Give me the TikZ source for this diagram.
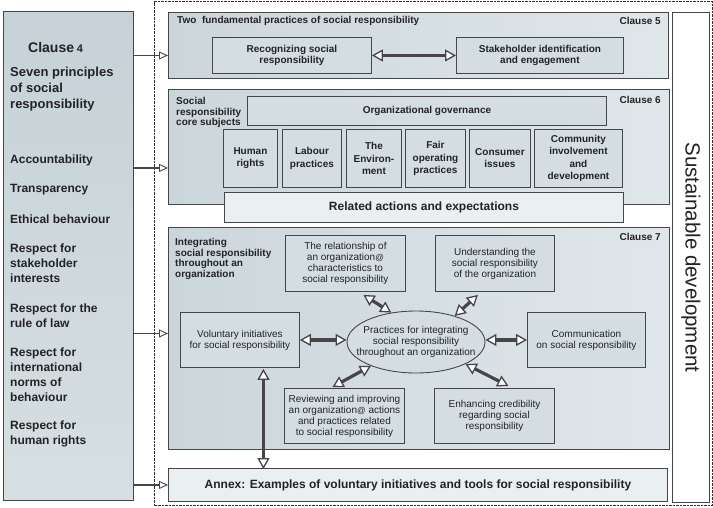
\documentclass[tikz,border=0pt]{standalone}
\usepackage{fontspec}
\setmainfont{Liberation Sans}
\usetikzlibrary{arrows.meta,shapes.geometric}

\definecolor{edge}{RGB}{68,70,72}
\definecolor{ink}{RGB}{35,35,35}
\definecolor{panelL}{RGB}{203,214,219}
\definecolor{panelR}{RGB}{224,231,234}
\definecolor{leftT}{RGB}{198,210,215}
\definecolor{leftB}{RGB}{214,223,226}
\definecolor{boxfill}{RGB}{212,222,226}
\definecolor{pale}{RGB}{234,239,241}

% garbled possessive mark as printed
\newcommand\possmark{{\fontsize{8.5}{10}\selectfont @}}

% box from its top-left corner (x1,y1) to bottom-right corner (x2,y2)
\newcommand\boxnode[7]{\node[#1,minimum width={(#5-#3)*1pt},minimum height={(#6-#4)*1pt}] (#2) at (#3,#4) {#7};}

\tikzset{
  frame/.style={draw=edge, line width=0.9pt, rectangle, inner sep=0pt, anchor=north west, align=center},
  dashframe/.style={frame, draw=black!80, dash pattern=on 2.5pt off 1pt, line width=1pt},
  panel/.style={frame, left color=panelL, right color=panelR},
  cell/.style={frame, fill=boxfill},
  palecell/.style={frame, fill=pale},
  bt/.style={font=\bfseries\fontsize{10}{11.5}\selectfont},
  bt12/.style={font=\bfseries\fontsize{12}{14}\selectfont},
  rt/.style={font=\fontsize{10}{11}\selectfont},
  item/.style={anchor=west, align=left, inner sep=0pt, font=\bfseries\fontsize{12}{15}\selectfont},
  feed/.style={draw=edge, line width=1.1pt, -{Triangle[fill=white,length=9pt,width=8pt,line width=0.9pt]}},
  link/.style={draw=edge, line width=3.2pt,
    {Triangle[fill=white,length=11pt,width=12pt,line width=1.3pt]}-{Triangle[fill=white,length=11pt,width=12pt,line width=1.3pt]}},
}

\begin{document}
\begin{tikzpicture}[x=1pt,y=-1pt,every node/.append style={text=ink}]
\useasboundingbox[fill=white] (0,0) rectangle (713,507);

% dashed frame around the clauses
\boxnode{dashframe}{outer}{154}{1}{711.5}{505}{}

% clause 4: principles
\boxnode{frame, top color=leftT, bottom color=leftB}{left}{3}{11}{133}{500}{}
\node[anchor=west, inner sep=0pt, font=\bfseries] (c4) at (28,47)
  {{\fontsize{14}{16}\selectfont Clause} {\fontsize{11}{13}\selectfont 4}};
\node[item, font=\bfseries\fontsize{13}{16}\selectfont] (seven) at (10,89.5)
  {Seven principles\\of social\\responsibility};
\node[item] (p1) at (10,160) {Accountability};
\node[item] (p2) at (10,190) {Transparency};
\node[item] (p3) at (10,219) {Ethical behaviour};
\node[item] (p4) at (10,263.5) {Respect for\\stakeholder\\interests};
\node[item] (p5) at (10,315.5) {Respect for the\\rule of law};
\node[item] (p6) at (10,375) {Respect for\\international\\norms of\\behaviour};
\node[item] (p7) at (10,434) {Respect for\\human rights};

% sustainable development
\boxnode{frame, fill=white}{sd}{672}{12}{709}{502}{}
\node[rotate=-90, font=\fontsize{20.5}{24}\selectfont] (sdtext) at (sd.center) {Sustainable development};

% clause 5
\boxnode{panel}{c5}{168}{12}{668}{78}{}
\node[anchor=west, inner sep=0pt, bt] (c5title) at (177,21) {Two\ \ fundamental practices of social responsibility};
\node[anchor=east, inner sep=0pt, bt] (c5lab) at (661,21) {Clause 5};
\boxnode{cell, bt}{recog}{212}{37}{371}{73}{Recognizing social\\responsibility}
\boxnode{cell, bt}{stake}{456}{37}{623}{73}{Stakeholder identification\\and engagement}

% clause 6
\boxnode{panel}{c6}{168}{89}{669}{204}{}
\node[anchor=west, align=left, inner sep=0pt, font=\bfseries\fontsize{10}{10.7}\selectfont] (c6title) at (176,112.5)
  {Social\\responsibility\\core subjects};
\node[anchor=east, inner sep=0pt, bt] (c6lab) at (661,100) {Clause 6};
\boxnode{cell, bt}{gov}{247}{96}{606}{125}{Organizational governance}
\boxnode{cell, font=\bfseries\fontsize{10}{12.2}\selectfont}{hr}{223}{129}{277}{187}{Human\\rights}
\boxnode{cell, font=\bfseries\fontsize{10}{12.2}\selectfont}{lab}{282}{129}{341}{187}{Labour\\practices}
\boxnode{cell, font=\bfseries\fontsize{10}{12.2}\selectfont}{env}{346}{129}{401}{187}{The\\Environ-\\ment}
\boxnode{cell, font=\bfseries\fontsize{10}{12.2}\selectfont}{fair}{405}{129}{465}{187}{Fair\\operating\\practices}
\boxnode{cell, font=\bfseries\fontsize{10}{12.2}\selectfont}{cons}{469}{129}{530}{187}{Consumer\\issues}
\boxnode{cell, font=\bfseries\fontsize{10}{12.2}\selectfont}{commun}{534}{129}{622}{187}{Community\\involvement\\and\\development}
\boxnode{palecell, bt12}{related}{224}{192}{623}{222}{Related actions and expectations}

% clause 7
\boxnode{panel}{c7}{168}{227}{669}{449}{}
\node[anchor=west, align=left, inner sep=0pt, font=\bfseries\fontsize{10}{10.7}\selectfont] (c7title) at (175,259)
  {Integrating\\social responsibility\\throughout an\\organization};
\node[anchor=east, inner sep=0pt, bt] (c7lab) at (661,237) {Clause 7};
\boxnode{cell, rt}{relat}{285}{235}{405}{291}{The relationship of\\an organization\possmark\\characteristics to\\social responsibility}
\boxnode{cell, rt}{und}{435}{235}{554}{291}{Understanding the\\social responsibility\\of the organization}
\boxnode{cell, rt}{vol}{180}{312}{299}{367}{Voluntary initiatives\\for social responsibility}
\boxnode{cell, rt}{commu}{527}{312}{645}{367}{Communication\\on social responsibility}
\boxnode{cell, rt}{rev}{284}{388}{404}{443}{Reviewing and improving\\an organization\possmark\ actions\\and practices related\\to social responsibility}
\boxnode{cell, rt}{enh}{434}{388}{554}{443}{Enhancing credibility\\regarding social\\responsibility}
\node[ellipse, draw=edge, line width=0.9pt, fill=boxfill, inner sep=0pt,
      minimum width=138pt, minimum height=62pt] (ell) at (416,342) {};
\node[rt, align=center, inner sep=0pt] (elltext) at (ell.center)
  {Practices for integrating\\social responsibility\\throughout an organization};

% annex
\boxnode{palecell, bt12}{annex}{168}{468}{667}{501}{Annex: Examples of voluntary initiatives and tools for social responsibility}

% links inside the clauses
\draw[link] (recog.east) -- (stake.west);
\draw[link] ([xshift=18pt,yshift=-3pt]relat.south) -- (ell.130);
\draw[link] ([xshift=-17pt,yshift=-3pt]und.south) -- (ell.34);
\draw[link] (vol.east) -- (vol.east -| ell.west);
\draw[link] (ell.east |- commu.west) -- (commu.west);
\draw[link] (ell.-152) -- ([xshift=-12pt,yshift=1pt]rev.north);
\draw[link] (ell.-24) -- ([xshift=14pt,yshift=2pt]enh.north);
\draw[link] ([xshift=23.5pt,yshift=-1pt]vol.south) -- ([xshift=23.5pt,yshift=-1pt]vol.south |- annex.north);

% principles feeding each clause
\draw[feed] ([yshift=-10pt]left.east |- c5.west) -- ([yshift=-10pt]c5.west);
\draw[feed] ([yshift=-21pt]left.east |- c6.west) -- ([yshift=-21pt]c6.west);
\draw[feed] ([yshift=5pt]left.east |- c7.west) -- ([yshift=5pt]c7.west);
\draw[feed] (left.east |- annex.west) -- (annex.west);
\end{tikzpicture}
\end{document}
